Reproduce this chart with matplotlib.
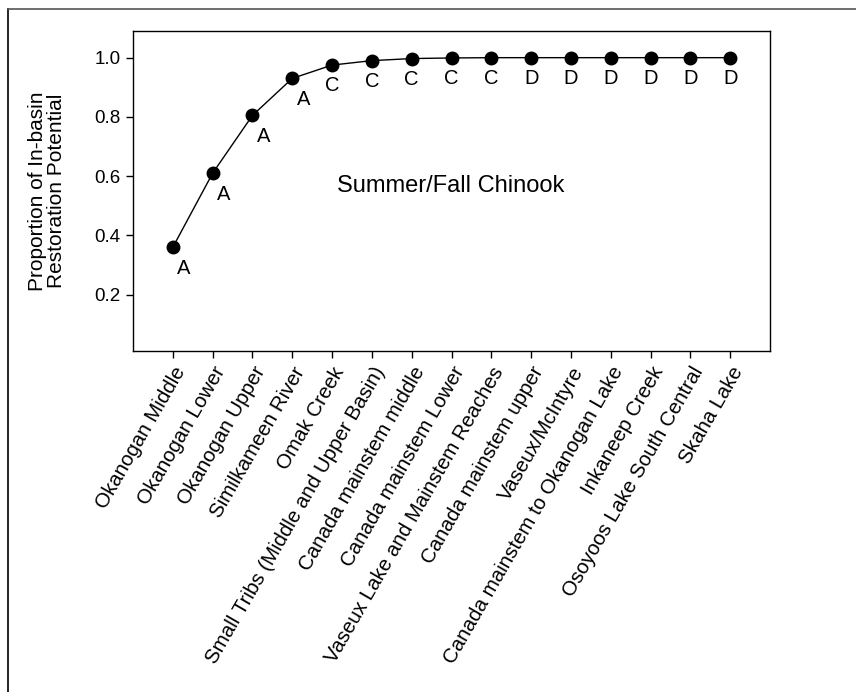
import matplotlib
matplotlib.use("Agg")
import matplotlib.pyplot as plt
from matplotlib.lines import Line2D

plt.rcParams['font.family'] = ['Liberation Sans', 'DejaVu Sans']

categories = ["Okanogan Middle", "Okanogan Lower", "Okanogan Upper", "Similkameen River",
              "Omak Creek", "Small Tribs (Middle and Upper Basin)", "Canada mainstem middle",
              "Canada mainstem Lower", "Vaseux Lake and Mainstem Reaches", "Canada mainstem upper",
              "Vaseux/McIntyre", "Canada mainstem to Okanogan Lake", "Inkaneep Creek",
              "Osoyoos Lake South Central", "Skaha Lake"]
values = [0.36, 0.61, 0.805, 0.93, 0.975, 0.99, 0.997, 0.999, 1.0, 1.0, 1.0, 1.0, 1.0, 1.0, 1.0]
letters = ["A", "A", "A", "A", "C", "C", "C", "C", "C", "D", "D", "D", "D", "D", "D"]
yticks = [0.2, 0.4, 0.6, 0.8, 1.0]

fig = plt.figure(figsize=(8.56, 6.92), dpi=100)
ax = fig.add_axes([133/856, 1-351/692, (770-133)/856, (351-31)/692])

x = list(range(len(categories)))
ax.plot(x, values, color='black', lw=1.0, marker='o', markersize=9,
        markerfacecolor='black', markeredgecolor='black')

for xi, v, l in zip(x, values, letters):
    dx = 8 if l == "A" else 0
    ax.annotate(l, (xi, v), xytext=(dx, -15), textcoords='offset points',
                ha='center', va='center', fontsize=14.5)

ax.text(6.97, 0.567, "Summer/Fall Chinook", ha='center', va='center', fontsize=17)

ax.set_xlim(-1, 15)
ax.set_ylim(0.01, 1.09)
ax.set_yticks(yticks)
ax.set_yticklabels([f"{t:.1f}" for t in yticks], fontsize=13.5)
ax.set_xticks(x)
ax.set_xticklabels(categories, rotation=60, ha='right', rotation_mode='anchor', fontsize=14.8)
ax.tick_params(direction='out', length=5, width=1, pad=4)
ax.tick_params(axis='x', pad=4)
for s in ax.spines.values():
    s.set_linewidth(1.0)
ax.set_ylabel("Proportion of In-basin\nRestoration Potential", fontsize=15, labelpad=20,
              linespacing=1.0)

fig.add_artist(Line2D([8/856, 8/856], [0, 1-9/692], color='black', lw=1.2, transform=fig.transFigure))
fig.add_artist(Line2D([8/856, 1], [1-9/692, 1-9/692], color='#555555', lw=1.2, transform=fig.transFigure))

fig.savefig("out.png", dpi=100)
